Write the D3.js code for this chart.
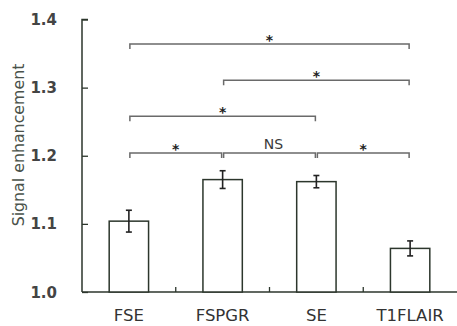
<!DOCTYPE html>
<html><head><meta charset="utf-8">
<script src="https://d3js.org/d3.v7.min.js"></script>
<style>body{margin:0;background:#fff;}</style>
</head><body>
<svg id="chart" width="457" height="326"></svg>
<script>
var categories=['FSE','FSPGR','SE','T1FLAIR'],
    means=[1.104,1.165,1.162,1.064],
    errors=[0.016,0.013,0.009,0.011],
    yTicks=[1.0,1.1,1.2,1.3,1.4];
// comparisons: [from, to, y level, label]
var comps=[
  ['FSE','T1FLAIR',1.364,'*'],
  ['FSPGR','T1FLAIR',1.311,'*'],
  ['FSE','SE',1.258,'*'],
  ['FSE','FSPGR',1.204,'*'],
  ['FSPGR','SE',1.204,'NS'],
  ['SE','T1FLAIR',1.204,'*']];

var svg=d3.select('#chart'),
    pl=82,pr=457,pt=19.5,pb=292;
var x=d3.scaleBand().domain(categories).range([pl,pr]).paddingInner(0.58).paddingOuter(0.29),
    xb=d3.scaleBand().domain(categories).range([pl,pr]),
    y=d3.scaleLinear().domain([1.0,1.4]).range([pb,pt]);
var ink='#2c362c',txt='#3a3a3a',br='#6a6a6a';

// y axis
var yAxis=d3.axisRight(y).tickValues(yTicks).tickSize(6).tickFormat('');
var ya=svg.append('g').attr('transform','translate('+pl+',0)').call(yAxis);
ya.select('.domain').attr('stroke',ink).attr('stroke-width',1.5).attr('d','M6,'+pt+'H0V'+pb);
ya.selectAll('.tick line').attr('stroke',ink).attr('stroke-width',1.3);
svg.append('g').selectAll('text').data(yTicks).enter().append('text')
   .attr('x',57).attr('y',function(d){return y(d)+5.5;})
   .attr('text-anchor','end').attr('font-family','DejaVu Sans')
   .attr('font-size',15).attr('font-weight','bold').attr('fill','#444')
   .text(function(d){return d.toFixed(1);});
svg.append('text').attr('transform','translate(24,145) rotate(-90)')
   .attr('text-anchor','middle').attr('font-family','DejaVu Sans')
   .attr('font-size',15.8).attr('fill','#4a524a').text('Signal enhancement');

// x axis
svg.append('line').attr('x1',pl).attr('x2',pr).attr('y1',pb).attr('y2',pb)
   .attr('stroke',ink).attr('stroke-width',1.5);
svg.append('g').selectAll('line').data(categories.slice(1)).enter().append('line')
   .attr('x1',function(d){return xb(d);}).attr('x2',function(d){return xb(d);})
   .attr('y1',pb).attr('y2',pb-5).attr('stroke',ink).attr('stroke-width',1.3);
svg.append('g').selectAll('text').data(categories).enter().append('text')
   .attr('x',function(d){return x(d)+x.bandwidth()/2;}).attr('y',321)
   .attr('text-anchor','middle').attr('font-family','DejaVu Sans')
   .attr('font-size',16.5).attr('fill','#333').text(function(d){return d;});

// bars
svg.append('g').selectAll('rect').data(categories).enter().append('rect')
   .attr('x',function(d){return x(d);}).attr('width',x.bandwidth())
   .attr('y',function(d,i){return y(means[i]);})
   .attr('height',function(d,i){return pb-y(means[i]);})
   .attr('fill','#fff').attr('stroke',ink).attr('stroke-width',1.5);

// error bars
var eb=svg.append('g').attr('stroke','#222').attr('stroke-width',1.6);
categories.forEach(function(c,i){
  var cx=x(c)+x.bandwidth()/2;
  eb.append('line').attr('x1',cx).attr('x2',cx)
    .attr('y1',y(means[i]+errors[i])).attr('y2',y(means[i]-errors[i]));
  [means[i]+errors[i],means[i]-errors[i]].forEach(function(v){
    eb.append('line').attr('x1',cx-3).attr('x2',cx+3).attr('y1',y(v)).attr('y2',y(v));
  });
});

// significance brackets
var bg=svg.append('g');
comps.forEach(function(c){
  var x1=x(c[0])+x.bandwidth()/2+1, x2=x(c[1])+x.bandwidth()/2-1, yy=y(c[2]);
  bg.append('path').attr('d','M'+x1+','+(yy+5)+'V'+yy+'H'+x2+'V'+(yy+5))
    .attr('fill','none').attr('stroke',br).attr('stroke-width',1.5);
  var mx=(x1+x2)/2;
  if(c[3]==='*'){
    bg.append('text').attr('x',mx).attr('y',yy+1).attr('text-anchor','middle')
      .attr('font-family','DejaVu Sans').attr('font-size',14).attr('font-weight','bold')
      .attr('fill','#222').text('*');
  } else {
    bg.append('text').attr('x',mx+4).attr('y',yy-4).attr('text-anchor','middle')
      .attr('font-family','DejaVu Sans').attr('font-size',14).attr('fill',txt).text(c[3]);
  }
});
</script>
</body></html>
